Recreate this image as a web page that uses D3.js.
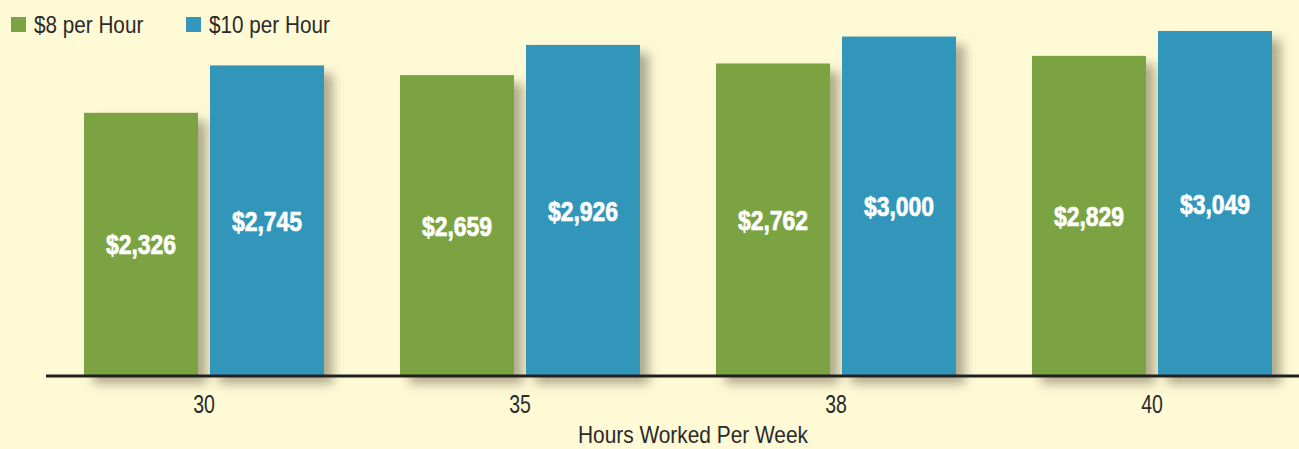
<!DOCTYPE html>
<html>
<head>
<meta charset="utf-8">
<script src="https://cdn.jsdelivr.net/npm/d3@7"></script>
<style>
  html, body { margin: 0; padding: 0; background: #fffad6; }
  #container { width: 1299px; height: 449px; }
  text { font-family: "Liberation Sans", Arial, sans-serif; }
</style>
</head>
<body>
<div id="container"></div>
<script>
const hours = ['30', '35', '38', '40']
const seriesNames = ['$8 per Hour', '$10 per Hour']
const eightPerHour = [2326, 2659, 2762, 2829]
const tenPerHour = [2745, 2926, 3000, 3049]
const colors = ['#7ba343', '#3396ba']

const w = 1299
const h = 449
const baseline = 376

const rows = hours.map((hr, i) => ({
  hour: hr,
  values: [eightPerHour[i], tenPerHour[i]]
}))

//narrow the text horizontally, the original uses a condensed face
const narrow = (sel, s, px, py) => sel
  .attr('transform', (d, i) => `translate(${px(d, i)},${py(d, i)}) scale(${s},1)`)

const svg = d3.select('#container')
  .append('svg')
  .attr('width', w)
  .attr('height', h)

svg.append('rect')
  .attr('width', w)
  .attr('height', h)
  .attr('fill', '#fffad6')

//shadow behind the bars
const defs = svg.append('defs')
const filter = defs.append('filter')
  .attr('id', 'shadow')
  .attr('x', '-20%')
  .attr('y', '-20%')
  .attr('width', '150%')
  .attr('height', '150%')
filter.append('feDropShadow')
  .attr('dx', 9)
  .attr('dy', 8)
  .attr('stdDeviation', 5.5)
  .attr('flood-color', '#6f6a52')
  .attr('flood-opacity', 0.55)

//SCALES
const x0 = d3.scaleBand()
  .domain(hours)
  .range([46, 1310])

const x1 = d3.scaleBand()
  .domain(d3.range(2))
  .range([38, 278])
  .paddingInner(0.0952)

const y = d3.scaleLinear()
  .domain([0, 3049])
  .range([baseline, 31])

//BARS
const groups = svg.selectAll('g.group')
  .data(rows)
  .enter()
  .append('g')
  .attr('class', 'group')
  .attr('transform', d => `translate(${x0(d.hour)},0)`)

groups.selectAll('rect')
  .data(d => d.values)
  .enter()
  .append('rect')
  .attr('x', (d, i) => x1(i))
  .attr('y', d => y(d))
  .attr('width', x1.bandwidth())
  .attr('height', d => baseline - y(d))
  .attr('fill', (d, i) => colors[i])
  .attr('filter', 'url(#shadow)')

//LABELS
groups.selectAll('text')
  .data(d => d.values)
  .enter()
  .append('text')
  .call(narrow, 0.82, (d, i) => x1(i) + x1.bandwidth() / 2, d => (y(d) + baseline) / 2)
  .attr('dy', '0.36em')
  .attr('text-anchor', 'middle')
  .attr('fill', '#ffffff')
  .attr('stroke', '#ffffff')
  .attr('stroke-width', 0.7)
  .attr('font-weight', 'bold')
  .attr('font-size', 28)
  .text(d => d3.format('$,')(d))

//AXIS
svg.append('line')
  .attr('x1', 46)
  .attr('x2', w)
  .attr('y1', baseline)
  .attr('y2', baseline)
  .attr('stroke', '#231f20')
  .attr('stroke-width', 3)

svg.selectAll('text.tick')
  .data(hours)
  .enter()
  .append('text')
  .attr('class', 'tick')
  .call(narrow, 0.78, d => x0(d) + x0.bandwidth() / 2, () => 413)
  .attr('text-anchor', 'middle')
  .attr('font-size', 25)
  .attr('fill', '#2a2a2a')
  .text(d => d)

svg.append('text')
  .datum('Hours Worked Per Week')
  .call(narrow, 0.87, () => 693, () => 443)
  .attr('text-anchor', 'middle')
  .attr('font-size', 24)
  .attr('fill', '#2a2a2a')
  .text(d => d)

//LEGEND
const legendX = [11, 186]
const legend = svg.selectAll('g.legend')
  .data(seriesNames)
  .enter()
  .append('g')
  .attr('class', 'legend')
  .attr('transform', (d, i) => `translate(${legendX[i]},17)`)

legend.append('rect')
  .attr('width', 15)
  .attr('height', 15)
  .attr('fill', (d, i) => colors[i])

legend.append('text')
  .call(narrow, 0.9, () => 23, () => 16)
  .attr('font-size', 23)
  .attr('fill', '#2a2a2a')
  .text(d => d)
</script>
</body>
</html>
